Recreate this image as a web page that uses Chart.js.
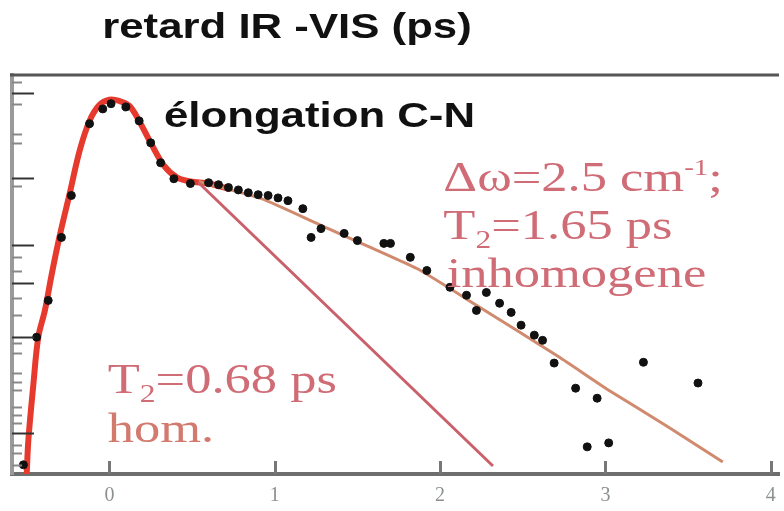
<!DOCTYPE html>
<html>
<head>
<meta charset="utf-8">
<script src="https://cdn.jsdelivr.net/npm/chart.js@4/dist/chart.umd.min.js"></script>
<style>
  html, body { margin: 0; padding: 0; background: #ffffff; }
  #wrap { width: 784px; height: 511px; }
</style>
</head>
<body>
<div id="wrap"><canvas id="c" width="784" height="511"></canvas></div>
<script>
// Measured signal (log units) versus IR-VIS delay (ps)
const delayPs = [-0.52, -0.44, -0.37, -0.29, -0.23, -0.12, -0.04, 0.01, 0.10, 0.18, 0.25, 0.31,
  0.39, 0.49, 0.60, 0.66, 0.72, 0.78, 0.84, 0.90, 0.96, 1.02, 1.08, 1.17, 1.22, 1.28, 1.42, 1.50,
  1.66, 1.70, 1.82, 1.92, 2.06, 2.16, 2.28, 2.22, 2.36, 2.43, 2.49, 2.57, 2.62, 2.69, 2.82, 2.95,
  3.23, 3.56, 2.89, 3.02];
const signalLog = [0.23, 3.43, 4.35, 5.93, 6.98, 8.78, 9.15, 9.28, 9.20, 8.85, 8.30, 7.80,
  7.40, 7.28, 7.30, 7.25, 7.18, 7.12, 7.05, 7.00, 6.98, 6.92, 6.85, 6.65, 5.93, 6.15, 6.03, 5.85,
  5.78, 5.78, 5.43, 5.10, 4.68, 4.48, 4.55, 4.10, 4.28, 4.05, 3.73, 3.48, 3.35, 2.78, 2.15, 1.90,
  2.80, 2.28, 0.68, 0.78];

// Full fit (rise, coherent peak, shoulder)
const fitTimes = [-0.50, -0.49, -0.46, -0.43, -0.39, -0.35, -0.30, -0.24, -0.18, -0.12, -0.06, 0.00,
  0.06, 0.12, 0.18, 0.25, 0.33, 0.41, 0.49, 0.60, 0.72];
const fitValues = [0.00, 0.85, 2.23, 3.43, 4.10, 4.98, 5.98, 7.03, 8.10, 8.85, 9.25, 9.38,
  9.35, 9.23, 8.85, 8.30, 7.73, 7.43, 7.33, 7.28, 7.15];

// Inhomogeneous decay, Δω = 2.5 cm-1, T2 = 1.65 ps
const inhomTimes = [0.54, 0.92, 1.28, 1.86, 2.22, 2.72, 3.02, 3.38, 3.71];
const inhomValues = [7.33, 6.90, 6.23, 5.15, 4.23, 2.93, 2.10, 1.18, 0.30];

// Homogeneous decay, T2 = 0.68 ps
const homTimes = [0.54, 2.32];
const homValues = [7.30, 0.20];

const xTickValues = [0, 1, 2, 3, 4];
const xTickLabels = ['0', '1', '2', '3', '4'];
const yTickValues = [9.83, 9.55, 9.28, 8.53, 8.30, 7.43, 7.23, 5.73, 5.43, 5.10, 4.78, 4.40, 3.98,
  3.43, 3.28, 3.03, 2.53, 2.30, 2.10, 1.68, 1.48, 1.28, 1.03, 0.73, 0.53, 0.23];
const yMajorTicks = [9.55, 7.43, 5.73, 4.78, 3.43, 1.03];

const toPoints = (xs, ys) => xs.map((x, i) => ({ x: x, y: ys[i] }));

const STRETCH = 1.25;
const SERIF = '"Liberation Serif", "DejaVu Serif", serif';
const SANS = '"Liberation Sans", Arial, sans-serif';
const PINK = '#d06c76';

// Annotation text blocks, anchored in data coordinates (left, baseline)
const notes = [
  { x: 0.33, y: 8.70, bold: true, size: 35, family: SANS, color: '#111111', parts: [{ t: 'élongation C-N' }] },
  { x: 2.02, y: 7.10, size: 42, family: SERIF, color: PINK, parts: [{ t: 'Δω=2.5 cm' }, { t: '-1', sup: true }, { t: ';' }] },
  { x: 2.02, y: 5.90, size: 42, family: SERIF, color: PINK, parts: [{ t: 'T' }, { t: '2', sub: true }, { t: '=1.65 ps' }] },
  { x: 2.04, y: 4.68, size: 42, family: SERIF, color: PINK, parts: [{ t: 'inhomogene' }] },
  { x: -0.01, y: 2.03, size: 42, family: SERIF, color: PINK, parts: [{ t: 'T' }, { t: '2', sub: true }, { t: '=0.68 ps' }] },
  { x: -0.01, y: 0.80, size: 42, family: SERIF, color: '#d37a6e', parts: [{ t: 'hom.' }] }
];

// Draws a run of text pieces with optional sub/superscripts at the current origin
function drawParts(ctx, note) {
  let cx = 0;
  note.parts.forEach(p => {
    let s = note.size, dy = 0;
    if (p.sub) { s = note.size * 0.6; dy = note.size * 0.22; }
    if (p.sup) { s = note.size * 0.55; dy = -note.size * 0.38; }
    ctx.font = (note.bold ? 'bold ' : '') + s + 'px ' + note.family;
    ctx.fillText(p.t, cx, dy);
    cx += ctx.measureText(p.t).width;
  });
}

const decorations = {
  id: 'decorations',
  afterDraw(chart) {
    const { ctx, chartArea: a, scales } = chart;
    const xs = scales.x, ys = scales.y;
    ctx.save();

    // top frame line
    ctx.strokeStyle = '#555555';
    ctx.lineWidth = 3;
    ctx.beginPath();
    ctx.moveTo(a.left - 2, a.top);
    ctx.lineTo(a.right, a.top);
    ctx.stroke();

    // inward ticks on the delay axis
    ctx.strokeStyle = '#777777';
    ctx.lineWidth = 3;
    xTickValues.forEach(v => {
      const px = Math.round(xs.getPixelForValue(v)) + 0.5;
      ctx.beginPath();
      ctx.moveTo(px, a.bottom);
      ctx.lineTo(px, a.bottom - 13);
      ctx.stroke();
    });

    // inward ticks on the signal axis
    ctx.lineWidth = 2;
    yTickValues.forEach(v => {
      const py = Math.round(ys.getPixelForValue(v)) + 0.5;
      const major = yMajorTicks.includes(v);
      ctx.strokeStyle = major ? '#333333' : '#888888';
      ctx.beginPath();
      ctx.moveTo(a.left, py);
      ctx.lineTo(a.left + (major ? 22 : 10), py);
      ctx.stroke();
    });

    // axis title above the plot
    ctx.fillStyle = '#111111';
    ctx.textBaseline = 'alphabetic';
    ctx.font = 'bold 35px ' + SANS;
    const title = 'retard IR -VIS (ps)';
    const tw = ctx.measureText(title).width * STRETCH;
    ctx.save();
    ctx.translate(287 - tw / 2, 38);
    ctx.scale(STRETCH, 1);
    ctx.fillText(title, 0, 0);
    ctx.restore();

    // annotations
    notes.forEach(n => {
      ctx.save();
      ctx.fillStyle = n.color;
      ctx.translate(xs.getPixelForValue(n.x), ys.getPixelForValue(n.y));
      ctx.scale(STRETCH, 1);
      drawParts(ctx, n);
      ctx.restore();
    });
    ctx.restore();
  }
};

new Chart(document.getElementById('c'), {
  data: {
    datasets: [
      {
        type: 'line', label: 'fit', data: toPoints(fitTimes, fitValues),
        borderColor: '#e63a2e', borderWidth: 6, pointRadius: 0, tension: 0.35,
        borderCapStyle: 'round', order: 3
      },
      {
        type: 'line', label: 'hom', data: toPoints(homTimes, homValues),
        borderColor: '#c9606a', borderWidth: 3, pointRadius: 0, tension: 0, order: 2
      },
      {
        type: 'line', label: 'inhom', data: toPoints(inhomTimes, inhomValues),
        borderColor: '#d08a6e', borderWidth: 3, pointRadius: 0, tension: 0.15, order: 2
      },
      {
        type: 'scatter', label: 'data', data: toPoints(delayPs, signalLog),
        backgroundColor: '#111111', borderColor: '#111111', pointRadius: 4, order: 1
      }
    ]
  },
  options: {
    responsive: false,
    animation: false,
    layout: { padding: { left: 12, top: 75, right: 0, bottom: 0 } },
    plugins: { legend: { display: false }, tooltip: { enabled: false }, title: { display: false } },
    scales: {
      x: {
        type: 'linear', min: -0.589, max: 4.05,
        afterBuildTicks: s => { s.ticks = xTickValues.map(v => ({ value: v })); },
        afterFit: s => { s.height = 37; s.paddingLeft = 0; s.paddingRight = 0; },
        ticks: {
          callback: (v) => xTickLabels[xTickValues.indexOf(v)] ?? '',
          color: '#8b918c', padding: 10, maxRotation: 0, autoSkip: false,
          font: { family: SERIF, size: 20 }
        },
        grid: { display: false, drawTicks: false },
        border: { display: true, color: '#6e6e6e', width: 4 }
      },
      y: {
        type: 'linear', min: 0, max: 10,
        afterFit: s => { s.width = 0; },
        ticks: { display: false },
        grid: { display: false, drawTicks: false },
        border: { display: true, color: '#9a9a9a', width: 4 }
      }
    }
  },
  plugins: [decorations]
});
</script>
</body>
</html>
